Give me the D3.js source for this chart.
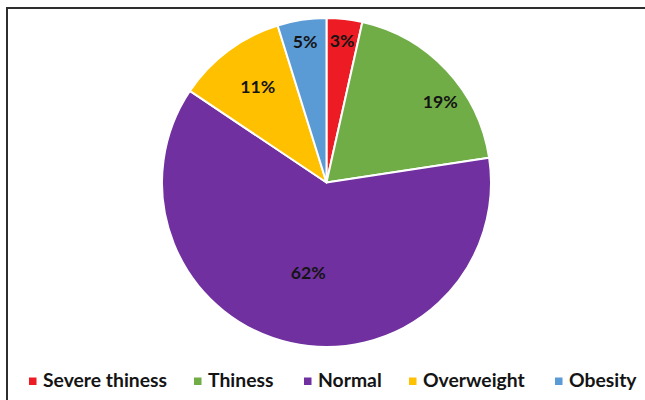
<!DOCTYPE html>
<html><head><meta charset="utf-8">
<script src="https://cdn.jsdelivr.net/npm/d3@7"></script>
<style>html,body{margin:0;padding:0;background:#fff;}svg{display:block;}</style>
</head><body>
<svg id="chart" width="645" height="400"></svg>
<script>
// ---- data ----
const categories = ["Severe thiness", "Thiness", "Normal", "Overweight", "Obesity"];
const values = [3.5, 19.1, 61.8, 10.8, 4.8];
const labels = ["3%", "19%", "62%", "11%", "5%"];
const colors = ["#ED1C24", "#70AD47", "#7030A0", "#FFC000", "#5B9BD5"];

// ---- layout (not data) ----
const W = 645, H = 400;
const cx = 326.5, cy = 182.5, R = 164.5;
const labelRadiusFactor = [0.866, 0.85, 0.56, 0.72, 0.87];
const labelAngleShift = [0, 7.5, -1.2, 1.2, 0];   // degrees
const legendSquareX = [29, 194, 304, 409, 555];
const FONT = "Lato, 'Open Sans', 'Liberation Sans', sans-serif";
const LEGEND_FS = 18, LABEL_FS = 17;

const svg = d3.select("#chart");

// frame
svg.append("path")
  .attr("d", `M7,${H+5} L7,8 L${W+5},8`)
  .attr("fill", "none").attr("stroke", "#2e2e2e").attr("stroke-width", 2);

function measure(text, fs) {
  const t = svg.append("text").attr("font-family", FONT).attr("font-weight", "bold")
    .attr("font-size", fs).text(text);
  const w = t.node().getComputedTextLength();
  t.remove();
  return w;
}
// horizontal squeeze so the glyph widths follow the reference's narrower face
const legendK = 124 / measure("Severe thiness", LEGEND_FS);
const labelK = 35 / measure("62%", LABEL_FS);

const pie = d3.pie().value(d => d).sort(null);
const arcs = pie(values);
const arc = d3.arc().innerRadius(0).outerRadius(R);

const g = svg.append("g").attr("transform", `translate(${cx},${cy})`);
g.selectAll("path.slice").data(arcs).enter().append("path")
  .attr("class", "slice")
  .attr("d", arc)
  .attr("fill", (d, i) => colors[i])
  .attr("stroke", "#fff").attr("stroke-width", 2).attr("stroke-linejoin", "round");

g.selectAll("text.lbl").data(arcs).enter().append("text")
  .attr("class", "lbl")
  .attr("x", (d, i) => {
    const a = (d.startAngle + d.endAngle) / 2 + labelAngleShift[i] * Math.PI / 180;
    return Math.sin(a) * R * labelRadiusFactor[i];
  })
  .attr("y", (d, i) => {
    const a = (d.startAngle + d.endAngle) / 2 + labelAngleShift[i] * Math.PI / 180;
    return -Math.cos(a) * R * labelRadiusFactor[i];
  })
  .attr("text-anchor", "middle").attr("dominant-baseline", "central")
  .attr("font-family", FONT).attr("font-weight", "bold").attr("font-size", LABEL_FS)
  .attr("fill", "#141414")
  .attr("textLength", (d, i) => measure(labels[i], LABEL_FS) * labelK)
  .attr("lengthAdjust", "spacingAndGlyphs")
  .text((d, i) => labels[i]);

// legend
const leg = svg.append("g");
categories.forEach((c, i) => {
  leg.append("rect").attr("x", legendSquareX[i]).attr("y", 377.5)
    .attr("width", 7.5).attr("height", 7.5).attr("fill", colors[i]);
  leg.append("text").attr("x", legendSquareX[i] + 14).attr("y", 387)
    .attr("font-family", FONT).attr("font-weight", "bold").attr("font-size", LEGEND_FS)
    .attr("fill", "#141414")
    .attr("textLength", measure(c, LEGEND_FS) * legendK)
    .attr("lengthAdjust", "spacingAndGlyphs")
    .text(c);
});
</script>
</body></html>
